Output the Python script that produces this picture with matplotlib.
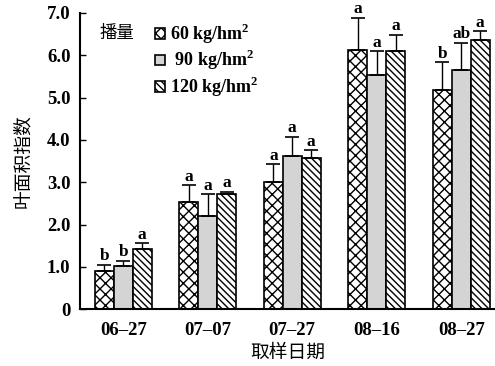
import matplotlib; matplotlib.use('Agg')
import matplotlib.pyplot as plt
import numpy as np

dates = ['06\u201327', '07\u201307', '07\u201327', '08\u201316', '08\u201327']
rates = ['60 kg/hm$^2$', ' 90 kg/hm$^2$', '120 kg/hm$^2$']

lai_60 = [0.90, 2.53, 3.00, 6.13, 5.17]
lai_90 = [1.03, 2.20, 3.62, 5.54, 5.65]
lai_120 = [1.42, 2.73, 3.58, 6.10, 6.35]
err_60 = [0.15, 0.40, 0.42, 0.75, 0.66]
err_90 = [0.12, 0.52, 0.45, 0.55, 0.64]
err_120 = [0.14, 0.05, 0.18, 0.38, 0.22]
sig_60 = ['b', 'a', 'a', 'a', 'b']
sig_90 = ['b', 'a', 'a', 'a', 'ab']
sig_120 = ['a', 'a', 'a', 'a', 'a']

plt.rcParams['font.family'] = ['Liberation Serif', 'Noto Sans CJK SC']
plt.rcParams['hatch.linewidth'] = 1.0
plt.rcParams['mathtext.fontset'] = 'custom'
plt.rcParams['mathtext.rm'] = 'Liberation Serif:bold'

fig = plt.figure(figsize=(4.95, 3.66), dpi=100)
ax = fig.add_axes([0.162, 0.155, 0.838, 0.81])

x = np.arange(len(dates))
w = 0.224
series = [(lai_60, err_60, sig_60, 'white', 'xxx'),
          (lai_90, err_90, sig_90, '#d4d4d4', None),
          (lai_120, err_120, sig_120, 'white', '\\\\\\\\\\')]

for i, (vals, errs, sigs, fc, hatch) in enumerate(series):
    xs = x + (i - 1) * w
    ax.bar(xs, vals, w, color=fc, edgecolor='black', linewidth=1.2,
           hatch=hatch, label=rates[i], zorder=2)
    ax.errorbar(xs, vals, yerr=[np.zeros(len(vals)), errs], fmt='none',
                ecolor='black', elinewidth=1.0, capsize=5, capthick=1.2, zorder=3)
    for xi, v, e, s in zip(xs, vals, errs, sigs):
        ax.text(xi, v + e + 0.01, s, ha='center', va='bottom', fontsize=12.5,
                fontweight='bold')

ax.set_xlim(-0.51, 4.4)
ax.set_ylim(0, 7.0)
ax.set_yticks(np.arange(0, 7.1, 1.0))
ax.set_yticklabels(['0'] + ['%.1f' % v for v in np.arange(1, 7.1, 1.0)])
ax.set_xticks(x)
ax.set_xticklabels(dates)
ax.tick_params(axis='y', direction='in', length=4, width=1, labelsize=13.5, pad=7)
ax.tick_params(axis='x', length=0, labelsize=13.5, pad=9)
for lab in ax.get_xticklabels() + ax.get_yticklabels():
    lab.set_fontweight('bold')
ax.spines['top'].set_visible(False)
ax.spines['right'].set_visible(False)
ax.spines['left'].set_linewidth(1.5)
ax.spines['bottom'].set_linewidth(1.5)

ax.set_ylabel('叶面积指数', fontsize=13.5, family=['Noto Sans CJK SC'], labelpad=10)
ax.set_xlabel('取样日期', fontsize=13.5, family=['Noto Sans CJK SC'], labelpad=2)

leg = fig.legend(loc='upper left', bbox_to_anchor=(155 / 495, 1 - 22 / 366),
                 frameon=False, fontsize=13, handlelength=0.55, handleheight=0.55,
                 handletextpad=0.3, labelspacing=0.12, borderpad=0, borderaxespad=0)
for t in leg.get_texts():
    t.set_fontweight('bold')
fig.text(100 / 495, 1 - 33 / 366, '播量', fontsize=12.5,
         family=['Noto Sans CJK SC'], va='center', ha='left')

fig.savefig('out.png', dpi=100)
